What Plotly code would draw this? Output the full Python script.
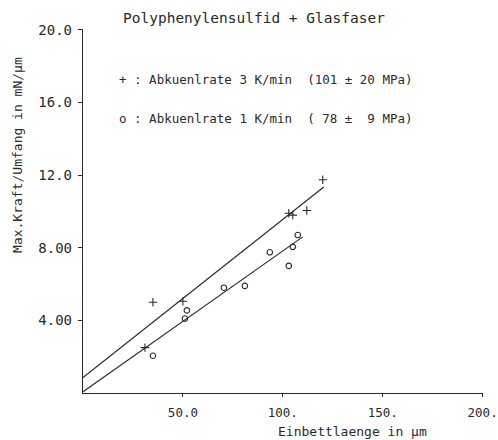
import plotly.graph_objects as go

# Data
plus_x = [31, 35, 50, 103, 105, 112, 120]
plus_y = [2.5, 5.0, 5.05, 9.9, 9.8, 10.05, 11.75]

circ_x = [35, 51, 52, 70.5, 81, 93.5, 103, 105, 107.5]
circ_y = [2.05, 4.1, 4.55, 5.8, 5.9, 7.75, 7.0, 8.05, 8.7]

fit3_x = [0, 120.5]
fit3_y = [0.85, 11.35]
fit1_x = [0, 110]
fit1_y = [0.07, 8.6]

y_ticks = [4, 8, 12, 16, 20]
y_labels = ["4.00", "8.00", "12.0", "16.0", "20.0"]
x_ticks = [50, 100, 150, 200]
x_labels = ["50.0", "100.", "150.", "200."]

ink = "#2a2a2a"
font = "DejaVu Sans Mono"

fig = go.Figure()
fig.add_trace(go.Scatter(x=fit3_x, y=fit3_y, mode="lines",
                         line=dict(color=ink, width=1.2), hoverinfo="skip"))
fig.add_trace(go.Scatter(x=fit1_x, y=fit1_y, mode="lines",
                         line=dict(color=ink, width=1.2), hoverinfo="skip"))
fig.add_trace(go.Scatter(x=plus_x, y=plus_y, mode="markers",
                         marker=dict(symbol="cross-thin", size=6,
                                     line=dict(color=ink, width=1.1))))
fig.add_trace(go.Scatter(x=circ_x, y=circ_y, mode="markers",
                         marker=dict(symbol="circle-open", size=5.5,
                                     color=ink, line=dict(color=ink, width=1.1))))

ann = [
    dict(x=0.4275, y=1.031, text="Polyphenylensulfid + Glasfaser",
         font=dict(size=14.5), xanchor="center", yanchor="middle",
         xref="paper", yref="paper"),
    dict(x=17, y=17.25, text="+ : Abkuenlrate 3 K/min  (101 ± 20 MPa)",
         font=dict(size=12.5), xanchor="left", yanchor="middle",
         xref="x", yref="y"),
    dict(x=17, y=15.1, text="o : Abkuenlrate 1 K/min  ( 78 ±  9 MPa)",
         font=dict(size=12.5), xanchor="left", yanchor="middle",
         xref="x", yref="y"),
    dict(x=0.674, y=-0.107, text="Einbettlaenge in µm",
         font=dict(size=13), xanchor="center", yanchor="middle",
         xref="paper", yref="paper"),
    dict(x=-0.1625, y=0.654, text="Max.Kraft/Umfang in mN/µm", textangle=-90,
         font=dict(size=13), xanchor="center", yanchor="middle",
         xref="paper", yref="paper"),
]
for a in ann:
    a.update(showarrow=False)
    a["font"].update(family=font, color=ink)

fig.update_layout(
    width=498, height=440,
    margin=dict(l=83, r=15, t=29, b=47, autoexpand=False),
    paper_bgcolor="white", plot_bgcolor="white",
    showlegend=False,
    font=dict(family=font, color=ink, size=13),
    annotations=ann,
    xaxis=dict(range=[0, 200.2], tickvals=x_ticks, ticktext=x_labels,
               showgrid=False, zeroline=False, showline=True,
               linecolor=ink, linewidth=1.3, ticks="outside", ticklen=3,
               tickcolor=ink, tickfont=dict(size=12.5), ticklabelstandoff=5,
               ticklabeloverflow="allow", automargin=False),
    yaxis=dict(range=[0, 20.05], tickvals=y_ticks, ticktext=y_labels,
               showgrid=False, zeroline=False, showline=True,
               linecolor=ink, linewidth=1.3, ticks="outside", ticklen=4,
               tickcolor=ink, tickfont=dict(size=14), ticklabelstandoff=3,
               automargin=False),
)

fig.write_html(
    "out.html",
    config={"displayModeBar": False},
    post_script="document.body.style.margin='0';document.body.style.overflow='hidden';",
)
